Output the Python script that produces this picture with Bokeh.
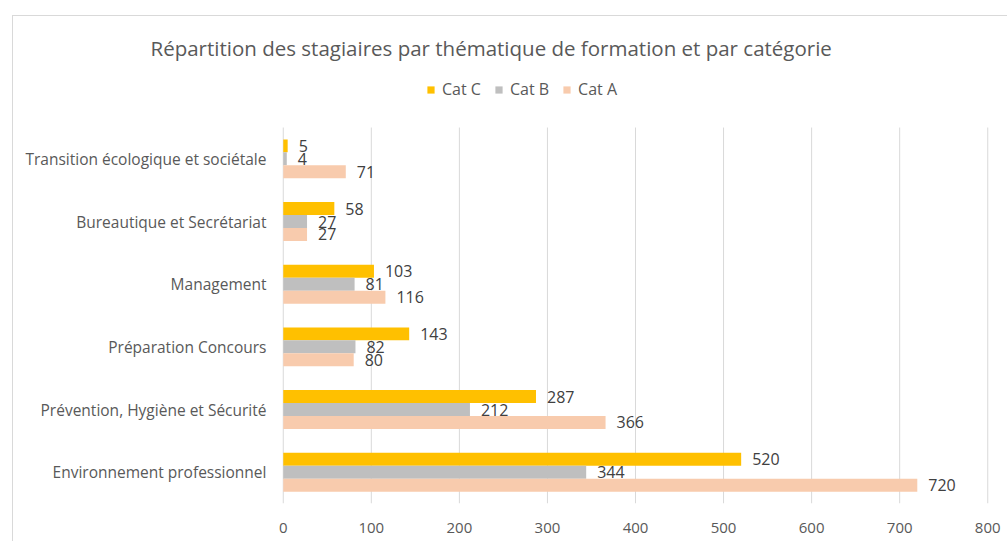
from bokeh.plotting import figure
from bokeh.models import Legend, LegendItem, ColumnDataSource, FixedTicker, Range1d
from bokeh.transform import dodge
from bokeh.core.properties import value
from bokeh.embed import file_html
from bokeh.resources import INLINE

themes = [
    "Environnement professionnel",
    "Prévention, Hygiène et Sécurité",
    "Préparation Concours",
    "Management",
    "Bureautique et Secrétariat",
    "Transition écologique et sociétale",
]
cat_c = [520, 287, 143, 103, 58, 5]
cat_b = [344, 212, 82, 81, 27, 4]
cat_a = [720, 366, 80, 116, 27, 71]
x_ticks = [0, 100, 200, 300, 400, 500, 600, 700, 800]

title_text = "Répartition des stagiaires par thématique de formation et par catégorie"
series_names = ["Cat C", "Cat B", "Cat A"]
colors = ["#FFC000", "#BFBFBF", "#F8CBAD"]

FONT = "Open Sans"
TXT = "#595959"

idx = list(range(len(themes)))
src = ColumnDataSource(dict(
    idx=idx,
    c=cat_c, b=cat_b, a=cat_a,
    c_lbl=[str(v) for v in cat_c],
    b_lbl=[str(v) for v in cat_b],
    a_lbl=[str(v) for v in cat_a],
))

p = figure(
    width=995, height=526,
    y_range=Range1d(-0.5, 6.41),
    x_range=Range1d(-2, 802),
    output_backend="svg", toolbar_location=None,
    min_border_left=268, min_border_right=19,
    min_border_top=54, min_border_bottom=39,
)
p.margin = (15, 0, 0, 12)
p.styles = {"border-left": "1px solid #d9d9d9", "border-top": "1px solid #d9d9d9"}

p.title.text = title_text
p.title.align = "left"
p.title.offset = -131
p.title.text_font = FONT
p.title.text_font_size = "20.5px"
p.title.text_font_style = "normal"
p.title.text_color = TXT
p.title.standoff = 17

# vertical gridlines (only over the category area)
n = len(themes)
p.segment(x0=x_ticks, x1=x_ticks, y0=[-0.5] * len(x_ticks), y1=[n - 0.5] * len(x_ticks),
          line_color="#d9d9d9", line_width=1)

bh = 0.207
offsets = [bh, 0.0, -bh]
fields = ["c", "b", "a"]
renderers = []
for f, off, col in zip(fields, offsets, colors):
    r = p.hbar(y=dodge("idx", off), right=f, left=0,
               height=bh, color=col, line_color=None, source=src)
    renderers.append(r)
    p.text(x=f, y=dodge("idx", off), text=f + "_lbl",
           source=src, x_offset=11, text_baseline="middle", text_align="left",
           text_font=value(FONT), text_font_size="16px", text_color="#404040")

legend = Legend(
    items=[LegendItem(label=nm, renderers=[r]) for nm, r in zip(series_names, renderers)],
    orientation="horizontal", location=(145, 403),
    glyph_width=9, glyph_height=9, label_standoff=7, spacing=13,
    label_text_font=FONT, label_text_font_size="16px", label_text_color=TXT,
    label_height=16, padding=0, margin=0,
    border_line_color=None, background_fill_alpha=0,
)
p.add_layout(legend, "center")

p.outline_line_color = None
p.grid.grid_line_color = None

p.xaxis.ticker = FixedTicker(ticks=x_ticks)
p.xaxis.axis_line_color = None
p.xaxis.major_tick_line_color = None
p.xaxis.minor_tick_line_color = None
p.xaxis.major_label_standoff = 13
p.xaxis.major_label_text_font = FONT
p.xaxis.major_label_text_font_size = "15px"
p.xaxis.major_label_text_color = TXT

p.yaxis.ticker = FixedTicker(ticks=idx)
p.yaxis.major_label_overrides = {i: t for i, t in zip(idx, themes)}
p.yaxis.axis_line_color = None
p.yaxis.major_tick_line_color = None
p.yaxis.minor_tick_line_color = None
p.yaxis.major_label_standoff = 9
p.yaxis.major_label_text_font = FONT
p.yaxis.major_label_text_font_size = "15.5px"
p.yaxis.major_label_text_color = TXT

open("out.html", "w").write(file_html(p, INLINE))
